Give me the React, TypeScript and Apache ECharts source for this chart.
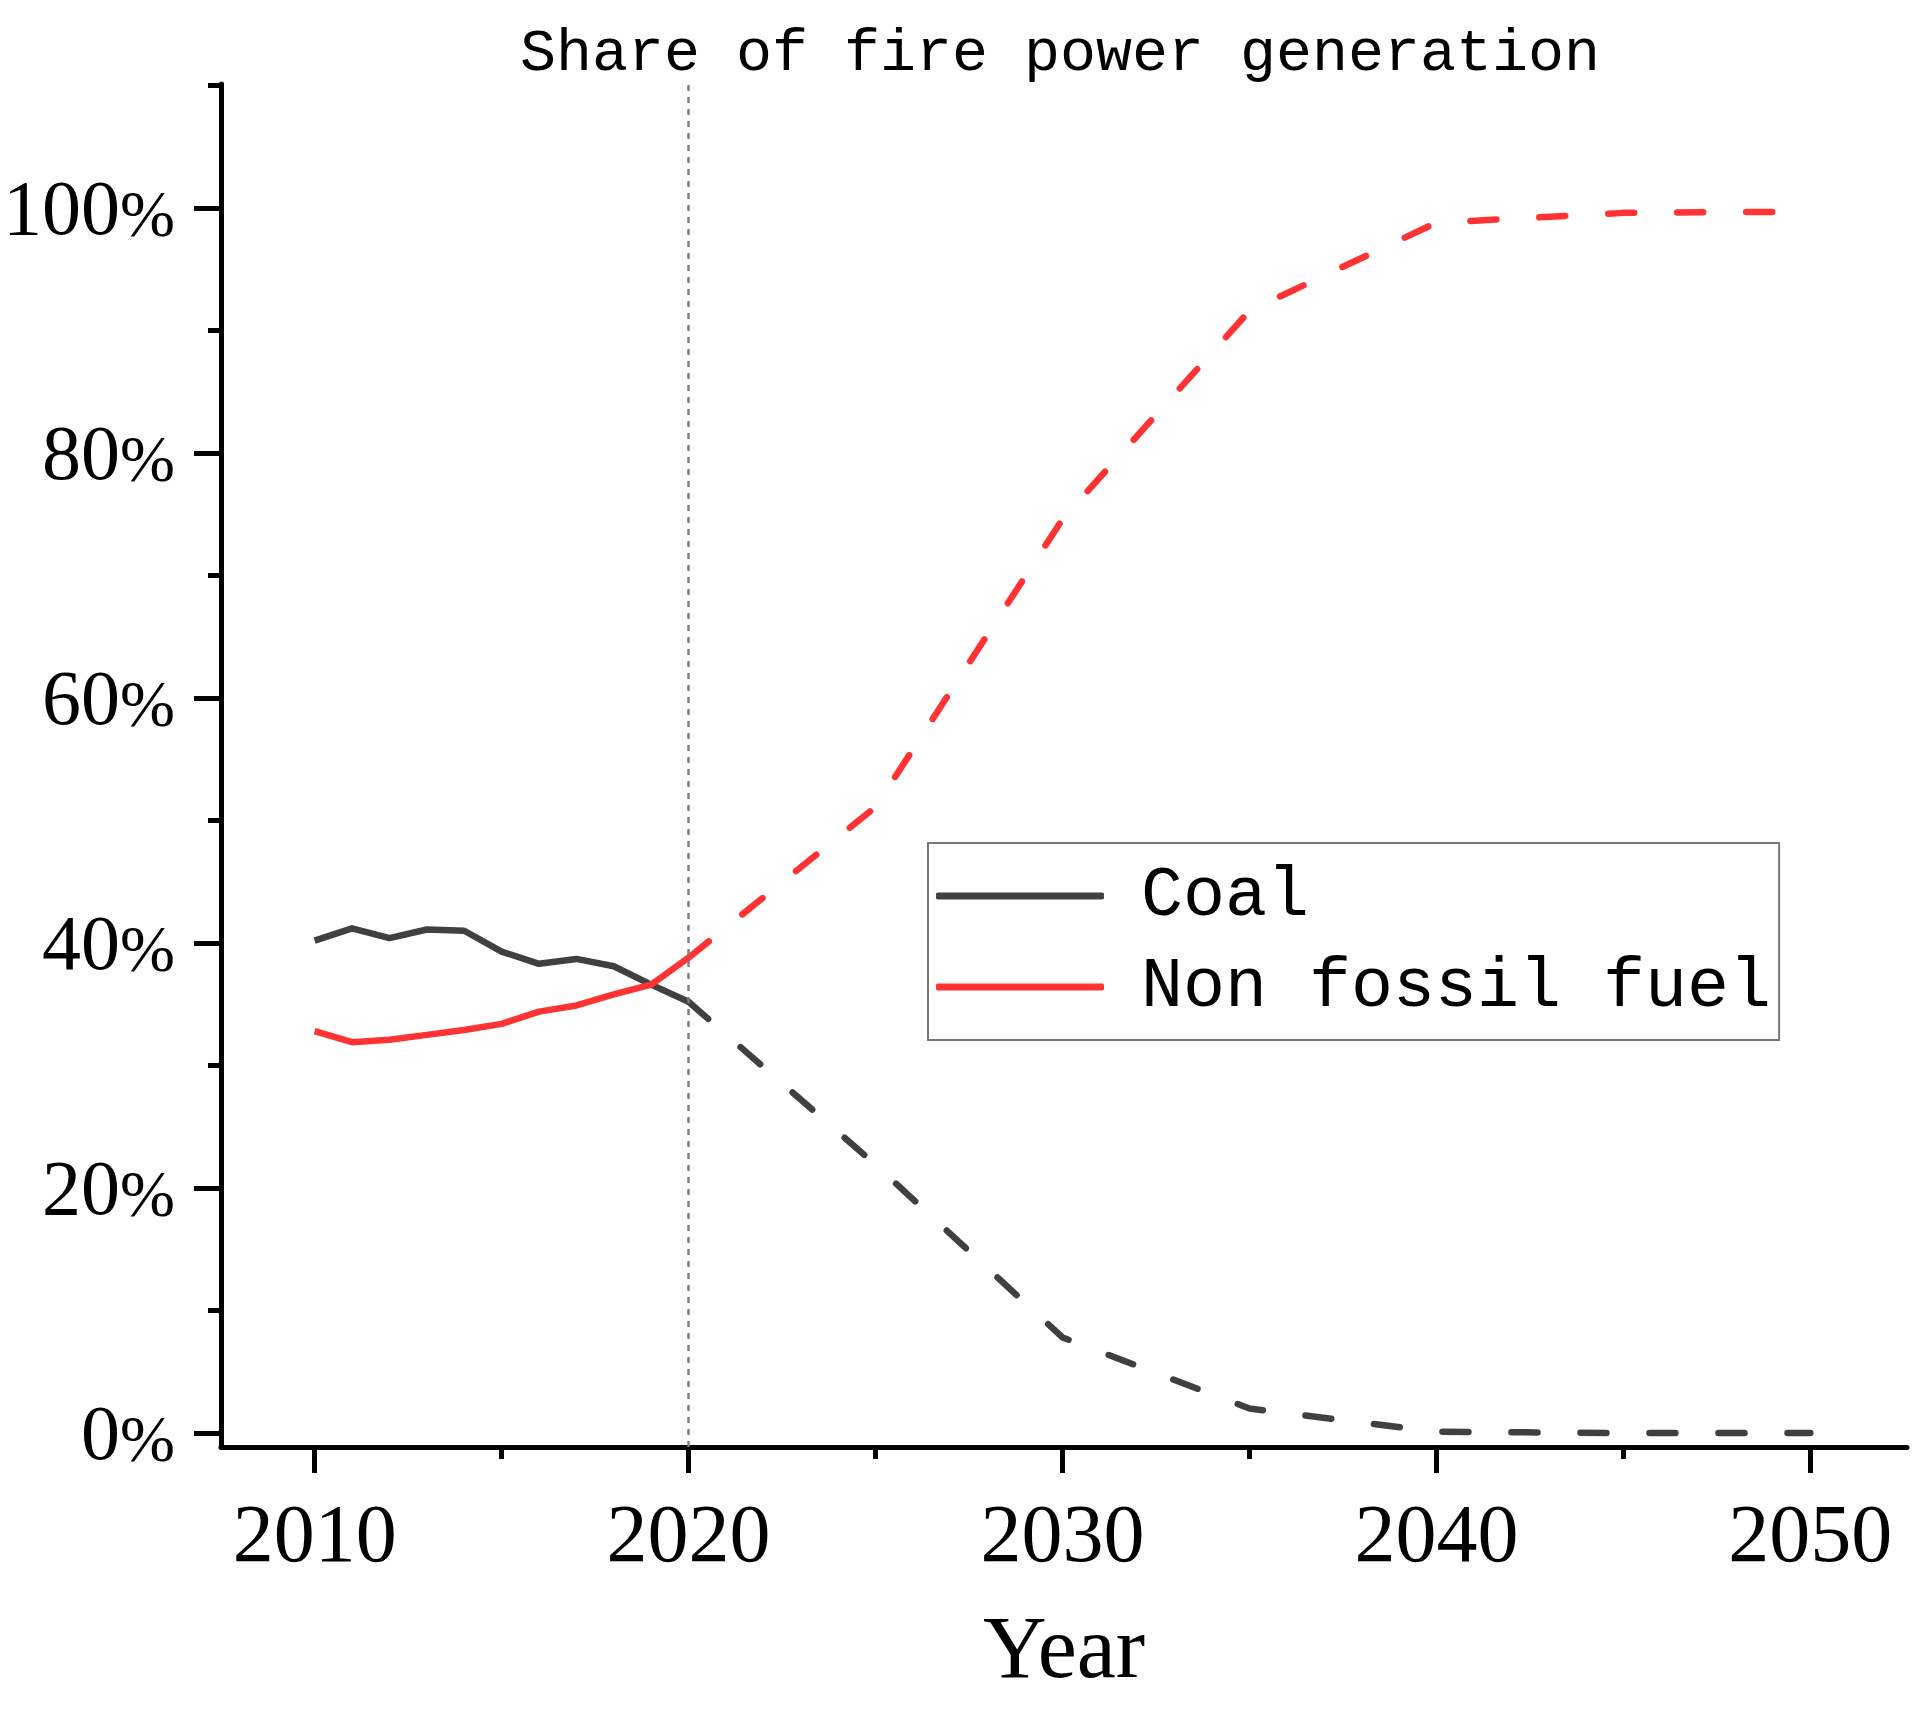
import React, { useEffect, useRef } from "react";
import * as echarts from "echarts";

// ---- data (percent shares) ----
const histYears = [2010, 2011, 2012, 2013, 2014, 2015, 2016, 2017, 2018, 2019, 2020];
const coalHist = [40.2, 41.2, 40.4, 41.1, 41.0, 39.3, 38.3, 38.7, 38.1, 36.6, 35.2];
const nonFossilHist = [32.8, 31.9, 32.1, 32.5, 32.9, 33.4, 34.4, 34.9, 35.8, 36.6, 38.8];

const projYears = [2020, 2025, 2030, 2035, 2040, 2045, 2050];
const coalProj = [35.2, 21.9, 7.8, 2.0, 0.1, 0, 0];
const nonFossilProj = [38.8, 51.1, 74.6, 91.6, 98.8, 99.6, 99.7];

const xMajorTicks = [2010, 2020, 2030, 2040, 2050];
const xMinorTicks = [2015, 2025, 2035, 2045];
const yMajorTicks = [0, 20, 40, 60, 80, 100];
const yMinorTicks = [10, 30, 50, 70, 90, 110];
const dividerYear = 2020;

const seriesNames = ["Coal", "Non fossil fuel"];
const titleText = "Share of fire power generation";
const xName = "Year";

const pairs = (xs: number[], ys: number[]) => xs.map((x, i) => [x, ys[i]]);

export default function App() {
  const ref = useRef<HTMLDivElement>(null);

  useEffect(() => {
    const chart = echarts.init(ref.current!, null, { renderer: "svg" });
    const X_MIN = 2007.495;
    const X_MAX = 2052.585;
    const Y_MIN = -1.143;
    const Y_MAX = 110.12;
    const coalColor = "#404040";
    const redColor = "#ff3333";
    const serif = "Liberation Serif";
    const mono = "Liberation Mono";
    const lw = 6.5;

    const option: any = {
      animation: false,
      backgroundColor: "#ffffff",
      title: {
        text: titleText,
        left: 1055,
        top: 19,
        textAlign: "center",
        textStyle: { fontFamily: mono, fontSize: 60, fontWeight: "normal", color: "#000" },
      },
      legend: {
        data: seriesNames,
        orient: "vertical",
        left: 928,
        top: 843,
        padding: [18, 8, 18, 8],
        itemWidth: 168,
        itemHeight: 7,
        itemGap: 21,
        icon: "roundRect",
        borderColor: "#777777",
        borderWidth: 2,
        backgroundColor: "#ffffff",
        textStyle: { fontFamily: mono, fontSize: 70, color: "#000", padding: [0, 0, 0, 32] },
      },
      grid: { left: 215, top: 84, right: 18, bottom: 262, containLabel: false },
      xAxis: [
        {
          type: "value",
          min: X_MIN,
          max: X_MAX,
          position: "bottom",
          splitLine: { show: false },
          axisLine: { show: true, onZero: false, lineStyle: { color: "#000", width: 5 } },
          axisTick: { show: true, customValues: xMajorTicks, length: 26, lineStyle: { color: "#000", width: 5 } },
          axisLabel: {
            customValues: xMajorTicks,
            margin: 45,
            fontFamily: serif,
            fontSize: 82,
            color: "#000",
            formatter: (v: number) => String(v),
          },
          name: xName,
          nameLocation: "middle",
          nameGap: 156,
          nameTextStyle: { fontFamily: serif, fontSize: 88, color: "#000" },
        },
        {
          type: "value",
          min: X_MIN,
          max: X_MAX,
          position: "bottom",
          splitLine: { show: false },
          axisLine: { show: false, onZero: false },
          axisTick: { show: true, customValues: xMinorTicks, length: 12, lineStyle: { color: "#000", width: 5 } },
          axisLabel: { show: false },
        },
      ],
      yAxis: [
        {
          type: "value",
          min: Y_MIN,
          max: Y_MAX,
          position: "left",
          splitLine: { show: false },
          axisLine: { show: true, onZero: false, lineStyle: { color: "#000", width: 5 } },
          axisTick: { show: true, customValues: yMajorTicks, length: 27, lineStyle: { color: "#000", width: 5 } },
          axisLabel: {
            customValues: yMajorTicks,
            margin: 46,
            formatter: (v: number) => `{n|${v}}{p|%}`,
            rich: {
              n: { fontFamily: serif, fontSize: 78, color: "#000" },
              p: { fontFamily: serif, fontSize: 66, color: "#000", verticalAlign: "bottom" },
            },
          },
        },
        {
          type: "value",
          min: Y_MIN,
          max: Y_MAX,
          position: "left",
          splitLine: { show: false },
          axisLine: { show: false, onZero: false },
          axisTick: { show: true, customValues: yMinorTicks, length: 13, lineStyle: { color: "#000", width: 5 } },
          axisLabel: { show: false },
        },
      ],
      series: [
        {
          name: seriesNames[0],
          type: "line",
          data: pairs(histYears, coalHist),
          symbol: "none",
          z: 3,
          itemStyle: { color: coalColor },
          lineStyle: { color: coalColor, width: lw, join: "round" },
          markLine: {
            silent: true,
            symbol: "none",
            label: { show: false },
            lineStyle: { color: "#808080", width: 2.5, type: [6, 6] },
            data: [{ xAxis: dividerYear }],
          },
        },
        {
          name: seriesNames[1],
          type: "line",
          data: pairs(histYears, nonFossilHist),
          symbol: "none",
          z: 4,
          itemStyle: { color: redColor },
          lineStyle: { color: redColor, width: lw, join: "round" },
        },
        {
          name: "Coal projection",
          type: "line",
          data: pairs(projYears, coalProj),
          symbol: "none",
          z: 3,
          itemStyle: { color: coalColor },
          lineStyle: { color: coalColor, width: lw, type: [26, 43], cap: "round" },
        },
        {
          name: "Non fossil fuel projection",
          type: "line",
          data: pairs(projYears, nonFossilProj),
          symbol: "none",
          z: 4,
          itemStyle: { color: redColor },
          lineStyle: { color: redColor, width: lw, type: [26, 43], cap: "round" },
        },
      ],
    };

    chart.setOption(option);
    return () => chart.dispose();
  }, []);

  return (
    <div
      ref={ref}
      style={{ position: "absolute", left: 0, top: 0, width: 1925, height: 1709, background: "#ffffff" }}
    />
  );
}
